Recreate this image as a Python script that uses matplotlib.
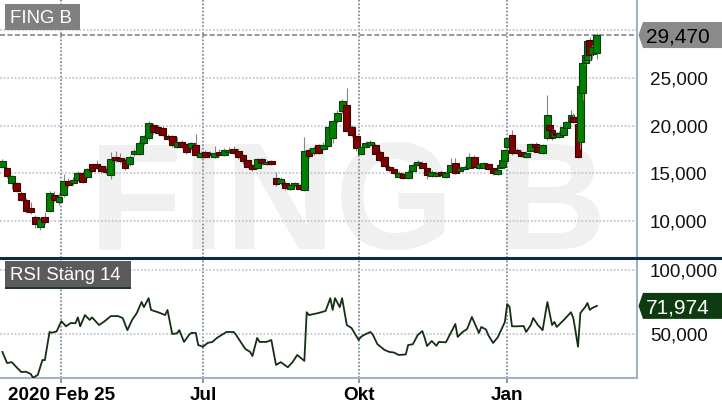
import matplotlib
matplotlib.use('Agg')
import matplotlib.pyplot as plt
from matplotlib.patches import Rectangle, Polygon

plt.rcParams['font.family'] = ['Liberation Sans', 'DejaVu Sans']

# ---------------- data ----------------
title = "FING B"
rsi_title = "RSI Stäng 14"

days = [1, 3, 5, 7, 9, 11, 13, 15, 17, 19,
        21, 23, 25, 27, 29, 31, 33, 35, 37, 39,
        41, 43, 45, 47, 49, 51, 53, 55, 57, 59,
        61, 63, 65, 67, 69, 71, 73, 75, 77, 79,
        81, 83, 85, 87, 89, 91, 93, 95, 97, 99,
        101, 103, 105, 107, 109, 111, 113, 115, 117, 119,
        121, 123, 125, 127, 129, 131, 133, 135, 137, 139,
        141, 143, 145, 147, 149, 151, 153, 155, 157, 159,
        161, 163, 165, 167, 169, 171, 173, 175, 177, 179,
        181, 183, 185, 187, 189, 191, 193, 195, 197, 199,
        201, 203, 205, 207, 209,
        211, 212, 213, 214, 215, 217, 219, 221, 223, 225,
        227, 228, 230, 232, 233, 234, 235, 236, 237, 239,
        240, 242, 243, 245, 246, 247, 248, 249, 250, 251,
        253]

opens = [15.66, 15.55, 14.0, 13.98, 12.94, 12.2, 11.4, 10.4, 9.4, 10.4,
         11.1, 12.72, 11.95, 12.7, 14.2, 13.95, 14.3, 15.0, 14.6, 15.95,
         15.95, 15.75, 15.4, 14.8, 16.7, 16.6, 16.4, 15.95, 17.0, 17.02,
         18.2, 18.7, 20.05, 19.85, 19.75, 18.93, 18.9, 17.75, 18.3, 18.06,
         17.6, 17.96, 16.75, 17.2, 17.1, 16.75, 17.2, 16.9, 17.2, 17.54,
         17.35, 16.9, 16.35, 15.85, 15.6, 16.45, 16.0, 16.25, 14.5, 13.98,
         13.98, 13.4, 13.75, 13.8, 13.25, 17.44, 17.1, 17.96, 17.55, 17.9,
         18.7, 20.47, 21.52, 22.15, 19.85, 18.9, 17.05, 17.7, 17.96, 17.96,
         17.2, 16.7, 15.7, 15.4, 14.65, 14.92, 14.5, 15.25, 15.9, 16.1,
         15.6, 14.7, 14.75, 15.1, 14.65, 15.15, 16.05, 15.2, 15.4, 15.55,
         16.7, 15.5, 15.6, 16.0, 15.5,
         14.95, 15.55, 15.7, 16.3, 17.75, 19.0, 17.45, 17.2, 16.75, 17.35,
         18.1, 17.8, 17.15, 18.7, 20.05, 19.5, 18.8, 19.2, 18.8, 19.0,
         19.7, 20.45, 20.9, 20.15, 18.25, 23.4, 26.5, 26.9, 28.95, 27.5,
         27.6]

highs = [16.45, 15.7, 14.85, 14.1, 13.1, 12.4, 12.0, 10.6, 10.4, 10.9,
         13.1, 13.1, 12.9, 14.9, 14.5, 14.6, 15.2, 15.2, 15.6, 16.0,
         16.4, 15.9, 15.8, 17.2, 17.3, 17.1, 16.6, 16.9, 17.5, 18.4,
         19.0, 20.5, 20.3, 20.1, 20.0, 19.1, 19.0, 18.8, 18.5, 18.2,
         18.3, 19.1, 17.3, 17.4, 17.3, 17.9, 17.5, 17.6, 17.7, 17.9,
         17.6, 17.0, 16.4, 16.0, 16.6, 16.6, 16.4, 16.4, 15.1, 14.6,
         14.2, 13.9, 14.1, 13.9, 18.8, 17.6, 17.9, 18.1, 18.3, 20.0,
         20.6, 21.6, 22.8, 23.9, 20.1, 19.0, 17.8, 18.4, 18.5, 18.2,
         17.4, 16.8, 15.9, 15.6, 15.2, 15.1, 15.3, 16.1, 16.4, 16.3,
         15.7, 15.3, 15.2, 15.3, 15.2, 16.6, 16.6, 15.8, 15.9, 17.1,
         16.9, 16.1, 16.2, 16.1, 15.6,
         15.5, 16.0, 16.5, 17.5, 18.8, 19.5, 17.6, 17.4, 17.3, 18.2,
         18.3, 17.9, 18.1, 23.2, 20.2, 19.6, 19.3, 19.3, 19.4, 19.9,
         20.5, 21.6, 21.3, 20.3, 24.3, 26.7, 27.5, 29.0, 29.3, 28.4,
         29.7]

lows = [15.5, 14.5, 13.4, 13.0, 12.1, 10.8, 10.7, 9.3, 9.06, 9.7,
        10.9, 12.0, 11.7, 12.5, 13.6, 13.8, 14.2, 14.0, 14.5, 15.1,
        15.4, 15.0, 14.9, 14.4, 16.2, 16.1, 15.3, 15.8, 16.8, 16.9,
        18.0, 18.5, 19.1, 19.0, 18.9, 18.5, 17.8, 17.6, 17.6, 17.0,
        17.4, 16.8, 16.6, 16.6, 16.8, 16.6, 16.8, 16.8, 17.1, 17.0,
        16.5, 16.0, 15.5, 15.2, 15.4, 15.9, 15.9, 15.9, 13.7, 13.8,
        13.3, 13.3, 13.6, 13.2, 13.1, 16.6, 16.9, 17.0, 17.4, 17.8,
        18.2, 20.3, 21.3, 19.3, 18.8, 17.3, 16.9, 17.6, 17.9, 17.0,
        16.2, 15.6, 15.1, 14.9, 14.5, 14.4, 14.4, 15.1, 15.8, 15.5,
        14.4, 14.6, 14.6, 14.7, 14.5, 15.1, 14.9, 15.1, 15.3, 15.5,
        15.5, 15.4, 15.5, 15.3, 14.8,
        14.8, 15.4, 15.6, 16.2, 17.4, 16.9, 17.0, 16.7, 16.6, 17.2,
        17.6, 17.1, 17.0, 18.5, 19.4, 18.5, 18.7, 18.8, 18.7, 18.9,
        19.6, 20.4, 20.3, 16.6, 17.5, 22.7, 26.3, 26.7, 26.9, 27.0,
        27.0]

closes = [16.28, 14.71, 14.7, 13.14, 12.2, 11.05, 10.9, 9.7, 10.2, 9.9,
          12.93, 12.2, 12.55, 14.2, 13.8, 14.3, 15.0, 14.1, 15.45, 15.25,
          15.55, 15.25, 15.15, 16.5, 16.4, 16.3, 15.55, 16.7, 17.3, 18.17,
          18.85, 20.25, 19.3, 19.2, 19.0, 18.6, 17.96, 18.27, 17.75, 17.23,
          18.15, 16.91, 17.1, 16.75, 16.95, 17.15, 16.95, 17.42, 17.45, 17.12,
          16.7, 16.25, 15.65, 15.45, 16.5, 16.07, 16.2, 16.0, 13.9, 14.4,
          13.46, 13.75, 13.98, 13.35, 17.33, 16.8, 17.65, 17.15, 17.96, 19.85,
          20.47, 21.35, 22.57, 19.45, 19.0, 17.6, 17.7, 18.2, 18.27, 17.05,
          16.35, 15.76, 15.3, 15.0, 15.0, 14.5, 15.1, 15.9, 16.2, 15.6,
          14.8, 15.1, 15.0, 14.85, 15.0, 15.9, 15.05, 15.55, 15.65, 16.7,
          15.65, 15.95, 16.05, 15.45, 15.05,
          15.35, 15.85, 16.4, 17.4, 18.7, 17.15, 17.15, 16.8, 17.1, 18.05,
          17.75, 17.25, 17.95, 21.1, 19.55, 18.7, 19.2, 19.0, 19.25, 19.85,
          20.4, 21.1, 20.4, 16.7, 24.15, 26.5, 27.4, 28.85, 27.4, 28.2,
          29.47]

rsi_days = [1, 3, 5, 7, 9, 11, 13, 14, 16, 18,
            19, 21, 22, 24, 26, 28, 30, 32, 33, 34,
            36, 38, 39, 42, 44, 47, 50, 52, 54, 56,
            58, 60, 61, 63, 64, 67, 70, 71, 73, 75,
            76, 78, 80, 81, 83, 84, 86, 88, 90, 92,
            96, 99, 100, 102, 104, 106, 107, 109, 110, 113,
            115, 117, 119, 122, 124, 126, 129, 130, 131, 135,
            138, 140, 141, 142, 144, 145, 147, 149, 152, 153,
            154, 157, 158, 160, 163, 165, 167, 169, 172, 173,
            175, 177, 179, 180, 181, 183, 185, 186, 189, 193,
            194, 196, 198, 200, 203, 204, 206, 207, 209, 211,
            213, 214, 215, 216, 217, 219, 222, 223, 225, 226,
            228, 230, 232, 234, 235, 236, 239, 242, 243, 244,
            245, 246, 248, 249, 250, 251, 253]

rsi_vals = [36, 27.3, 28, 24, 20.3, 20.5, 18.8, 15.8, 18, 29.7,
            29.5, 51.6, 51, 52, 60, 56, 58.6, 58.4, 63, 56,
            64.8, 61, 63, 57, 59.5, 64, 64, 62.5, 53, 61,
            66.4, 75, 71, 78, 68.8, 67, 64.8, 68.8, 50, 50.5,
            53, 43.8, 49, 50.8, 50.8, 41.4, 40, 43, 43.8, 47,
            51.6, 51.6, 49.5, 43.8, 38.3, 36, 32.8, 46.9, 43.8, 43.8,
            45.3, 25.8, 28, 24, 28, 33.6, 29, 67, 64.8, 66.4,
            68, 78, 68.8, 78, 71, 78, 57, 54.7, 45.3, 47.7,
            49, 51.6, 49.5, 42, 37.5, 36, 35.5, 33.6, 34, 41.4,
            42, 49, 52.3, 47, 40.6, 44.5, 40.8, 43.8, 43.5, 57.8,
            47.7, 51.5, 53.9, 63.3, 50.8, 55.5, 53.5, 49, 43, 47.5,
            55.5, 59.4, 73.4, 71, 56, 56, 56.2, 51.6, 57, 62.5,
            57, 53, 75, 57, 59.4, 55.5, 61, 67, 62.5, 51.6,
            40, 66.4, 71, 74.2, 68.8, 70.3, 71.974]

month_ticks = [26, 86, 152, 215]
month_labels = ['2020 Feb 25', 'Jul', 'Okt', 'Jan']
price_ticks = [10, 15, 20, 25, 30]
price_tick_labels = ['10,000', '15,000', '20,000', '25,000', '']
rsi_ticks = [50, 100]
rsi_tick_labels = ['50,000', '100,000']


def fmt(v):
    return f"{v:.3f}".replace('.', ',')


# ---------------- layout ----------------
W, H = 722, 411
fig = plt.figure(figsize=(W / 100, H / 100), dpi=100)
fig.patch.set_facecolor('white')

PANEL_R = 637
SEP = 258
RSI_B = 378

ax = fig.add_axes([0, 1 - SEP / H, PANEL_R / W, SEP / H])
ax2 = fig.add_axes([0, 1 - RSI_B / H, PANEL_R / W, (RSI_B - SEP) / H])

border = '#a2b2c5'
vgrid = '#7f90a1'
hgrid = '#c3c9cf'
TICK_FS = 13.6

for a in (ax, ax2):
    a.set_facecolor('white')
    a.set_xlim(0, 270)
    a.set_axisbelow(True)
    for s in ('left', 'top'):
        a.spines[s].set_visible(False)
    a.spines['right'].set_color(border)
    a.spines['right'].set_linewidth(1.5)
    a.yaxis.tick_right()
    a.tick_params(axis='y', length=0, pad=9.3, labelsize=TICK_FS, labelcolor='#111111')
    a.grid(axis='x', color=vgrid, linestyle=(0, (1, 1)), linewidth=1.3)
    a.grid(axis='y', color=hgrid, linestyle=(0, (1, 1)), linewidth=1.3)

ax.spines['bottom'].set_visible(False)
ax2.spines['bottom'].set_color(border)
ax2.spines['bottom'].set_linewidth(1.5)

# price panel
ax.set_ylim(6.13, 33.14)
ax.set_yticks(price_ticks, price_tick_labels)
ax.set_xticks(month_ticks)
ax.tick_params(axis='x', length=0, labelbottom=False)

# watermark
ax.text(89 / PANEL_R, 9 / SEP, title, transform=ax.transAxes, fontsize=110,
        fontweight='bold', color='#f0f0f0', ha='left', va='baseline', zorder=0.1)

# candles
w = 2.9
for i, (d, o, h, l, c) in enumerate(zip(days, opens, highs, lows, closes)):
    up = c >= o
    fc = '#008000' if up else '#800000'
    ec = '#123a12' if up else '#3a0505'
    z = 2 + i * 0.01
    ax.plot([d, d], [l, h], color='#858585', lw=0.8, zorder=z, solid_capstyle='butt')
    ax.add_patch(Rectangle((d - w / 2, min(o, c)), w, max(abs(c - o), 0.06),
                           facecolor=fc, edgecolor=ec, linewidth=0.8, zorder=z + 0.005))

last_price = closes[-1]
ax.axhline(last_price, color='#7a7a7a', linestyle=(0, (3.3, 1.6)), linewidth=1.1, zorder=1.5)

# RSI panel
ax2.set_ylim(15.6, 109.4)
ax2.set_yticks(rsi_ticks, rsi_tick_labels)
ax2.plot(rsi_days, rsi_vals, color='#142f14', linewidth=1.3, zorder=3)
ax2.set_xticks(month_ticks, month_labels)
ax2.tick_params(axis='x', length=3.6, width=1.3, color=vgrid, pad=3.0,
                labelsize=TICK_FS)
for lab in ax2.get_xticklabels():
    lab.set_fontweight('bold')
last_rsi = rsi_vals[-1]

# separator line between panels
fig.add_artist(plt.Line2D([0, 1], [1 - 257.5 / H, 1 - 257.5 / H], transform=fig.transFigure,
                          color='#102b45', linewidth=2.2))

# label boxes
fig.add_artist(Rectangle((5 / W, 1 - 30 / H), 75 / W, 26 / H, transform=fig.transFigure,
                         facecolor='#808080', edgecolor='none'))
fig.text(10 / W, 1 - 22.7 / H, title, color='white', fontsize=13.4, va='baseline', ha='left')

fig.add_artist(Rectangle((5 / W, 1 - 287 / H), 126 / W, 26 / H, transform=fig.transFigure,
                         facecolor='#5b5b5b', edgecolor='none'))
fig.add_artist(Rectangle((5 / W, 1 - 288.5 / H), 126 / W, 2 / H, transform=fig.transFigure,
                         facecolor='#1f3d1f', edgecolor='none'))
fig.text(10 / W, 1 - 280 / H, rsi_title, color='white', fontsize=13.4, va='baseline', ha='left')


# value markers on the right axis
def value_box(axis, value, fc, tc):
    inv = fig.transFigure.inverted()
    yc = inv.transform(axis.transData.transform((0, value)))[1]
    hh = 13 / H
    pts = [(638.5 / W, yc), (643 / W, yc + hh), (1.0, yc + hh), (1.0, yc - hh), (643 / W, yc - hh)]
    fig.add_artist(Polygon(pts, closed=True, transform=fig.transFigure,
                           facecolor=fc, edgecolor='none'))
    fig.text(646 / W, yc, fmt(value), color=tc, fontsize=15, va='center_baseline', ha='left')


value_box(ax, last_price, '#8a8a8a', '#000000')
value_box(ax2, last_rsi, '#0d3a0f', '#ffffff')

fig.savefig('out.png', dpi=100, facecolor='white')
